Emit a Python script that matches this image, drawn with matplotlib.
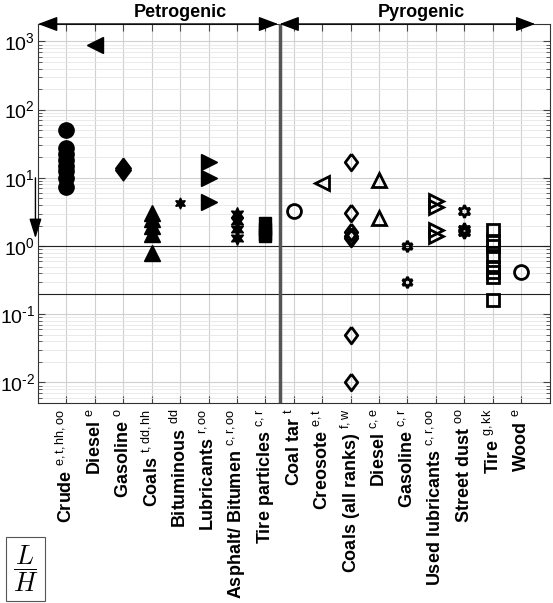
import numpy as np
import matplotlib.pyplot as plt
from matplotlib.ticker import LogLocator, NullFormatter, FuncFormatter

plt.rcParams['font.family'] = ['Liberation Sans', 'DejaVu Sans']
plt.rcParams['mathtext.fontset'] = 'custom'
plt.rcParams['mathtext.rm'] = 'Liberation Sans'
plt.rcParams['mathtext.it'] = 'Liberation Sans:italic'
plt.rcParams['mathtext.bf'] = 'Liberation Sans:bold'

# ---- data (L/H ratios) ----
petro_names = ['Crude', 'Diesel', 'Gasoline', 'Coals', 'Bituminous', 'Lubricants',
               'Asphalt/ Bitumen', 'Tire particles']
petro_refs = ['e,t,hh,oo', 'e', 'o', 't,dd,hh', 'dd', 'r,oo', 'c,r,oo', 'c,r']
petro_ratios = [
    [50, 27, 22, 18, 15, 12.5, 10, 7.3],
    [900],
    [13, 14],
    [3.1, 2.5, 2.0, 1.5, 0.8],
    [4.3],
    [17, 10, 4.4],
    [3.0, 2.3, 1.8, 1.3],
    [2.2, 1.8, 1.5, 1.4],
]

pyro_names = ['Coal tar', 'Creosote', 'Coals (all ranks)', 'Diesel', 'Gasoline',
              'Used lubricants', 'Street dust', 'Tire', 'Wood']
pyro_refs = ['t', 'e,t', 'f,w', 'c,e', 'c,r', 'c,r,oo', 'oo', 'g,kk', 'e']
pyro_ratios = [
    [3.3],
    [8.5],
    [17, 3.1, 1.6, 1.4, 1.3, 0.05, 0.01],
    [9.3, 2.6],
    [1.0, 0.3],
    [4.6, 3.7, 1.7, 1.4],
    [3.3, 1.8, 1.6],
    [1.7, 1.2, 1.0, 0.72, 0.5, 0.42, 0.35, 0.16],
    [0.42],
]

# ---- marker styles ----
star6 = (6, 1, 0)
diamond = [(0, 1), (0.75, 0), (0, -1), (-0.75, 0), (0, 1)]
petro_markers = ['o', '<', diamond, '^', star6, '>', star6, 's']
petro_sizes = [11, 11, 15, 11, 8, 11, 10, 9]
pyro_markers = ['o', '<', diamond, '^', star6, '>', star6, 's', 'o']
pyro_sizes = [10, 10, 12, 10, 8, 10, 9, 8, 10]

fig = plt.figure(figsize=(5.53, 6.03), dpi=100)
ax = fig.add_axes([38 / 553, 1 - 403 / 603, 511.5 / 553, 379 / 603])

n_petro = len(petro_names)
for i, vals in enumerate(petro_ratios):
    x = i + 1
    ax.plot(np.full(len(vals), x), vals, ls='none', marker=petro_markers[i],
            ms=petro_sizes[i], mfc='k', mec='k', mew=1, zorder=5)

for i, vals in enumerate(pyro_ratios):
    x = n_petro + i + 1
    ax.plot(np.full(len(vals), x), vals, ls='none', marker=pyro_markers[i],
            ms=pyro_sizes[i], mfc='none', mec='k', mew=2.0, zorder=5)

ax.set_yscale('log')
ax.set_ylim(5e-3, 1.8e3)
ax.set_xlim(0, n_petro + len(pyro_names) + 1)

labels = [f'{n} $^{{\\rm {r}}}$' for n, r in zip(petro_names, petro_refs)] + \
         [f'{n} $^{{\\rm {r}}}$' for n, r in zip(pyro_names, pyro_refs)]
xpos = np.arange(1, len(labels) + 1)
ax.set_xticks(xpos)
ax.set_xticklabels(labels, rotation=90, fontsize=13, fontweight='bold')


def pow10(v, pos):
    e = int(round(np.log10(v)))
    s = str(abs(e)) if e >= 0 else r'\text{-}' + str(abs(e))
    return r'$\mathregular{10^{' + s + '}}$'


ax.yaxis.set_major_locator(LogLocator(base=10, numticks=20))
ax.yaxis.set_major_formatter(FuncFormatter(pow10))
ax.yaxis.set_minor_locator(LogLocator(base=10, subs=np.arange(2, 10), numticks=20))
ax.yaxis.set_minor_formatter(NullFormatter())
ax.tick_params(which='both', direction='in', top=True, right=True, color='#444444')
ax.tick_params(which='major', length=5, pad=4)
ax.tick_params(axis='y', which='major', labelsize=14, pad=2)
ax.tick_params(which='minor', length=3)

ax.grid(True, which='major', color='#d0d0d0', lw=0.8)
ax.grid(True, which='minor', axis='y', color='#e6e6e6', lw=0.6)
ax.set_axisbelow(True)
for s in ax.spines.values():
    s.set_color('#333333')
    s.set_linewidth(0.8)

# reference lines
ax.axhline(1.0, color='#222222', lw=0.8, zorder=2)
ax.axhline(0.2, color='#222222', lw=0.8, zorder=2)
ax.axvline(n_petro + 0.5, color='#555555', lw=2.5, zorder=3)

# top arrows
arrow = dict(arrowstyle='<|-|>,head_length=0.8,head_width=0.3', color='k', lw=1,
             mutation_scale=15, shrinkA=0, shrinkB=0)
ax.annotate('', xy=(0, 1), xytext=(n_petro + 0.45, 1),
            xycoords=('data', 'axes fraction'), textcoords=('data', 'axes fraction'),
            arrowprops=arrow, annotation_clip=False)
ax.annotate('', xy=(n_petro + 0.5, 1), xytext=(17.5, 1),
            xycoords=('data', 'axes fraction'), textcoords=('data', 'axes fraction'),
            arrowprops=arrow, annotation_clip=False)
ax.annotate('Petrogenic', xy=(5.0, 1), xycoords=('data', 'axes fraction'),
            xytext=(0, 5), textcoords='offset points', ha='center', va='baseline',
            fontsize=13, fontweight='bold', annotation_clip=False)
ax.annotate('Pyrogenic', xy=(13.5, 1), xycoords=('data', 'axes fraction'),
            xytext=(0, 5), textcoords='offset points', ha='center', va='baseline',
            fontsize=13, fontweight='bold', annotation_clip=False)

# left down arrow
ax.annotate('', xy=(-0.005, 1.3), xytext=(-0.005, 10),
            xycoords=('axes fraction', 'data'), textcoords=('axes fraction', 'data'),
            arrowprops=dict(arrowstyle='-|>,head_length=0.8,head_width=0.25', color='k',
                            lw=1, mutation_scale=15, shrinkA=0, shrinkB=0),
            annotation_clip=False)

fig.text(25.5 / 553, 1 - 569 / 603, r'$\dfrac{L}{H}$', math_fontfamily='cm', fontsize=19,
         ha='center', va='center',
         bbox=dict(boxstyle='square,pad=0.25', fc='white', ec='#555555', lw=0.8))

fig.savefig('out.png', dpi=100)
